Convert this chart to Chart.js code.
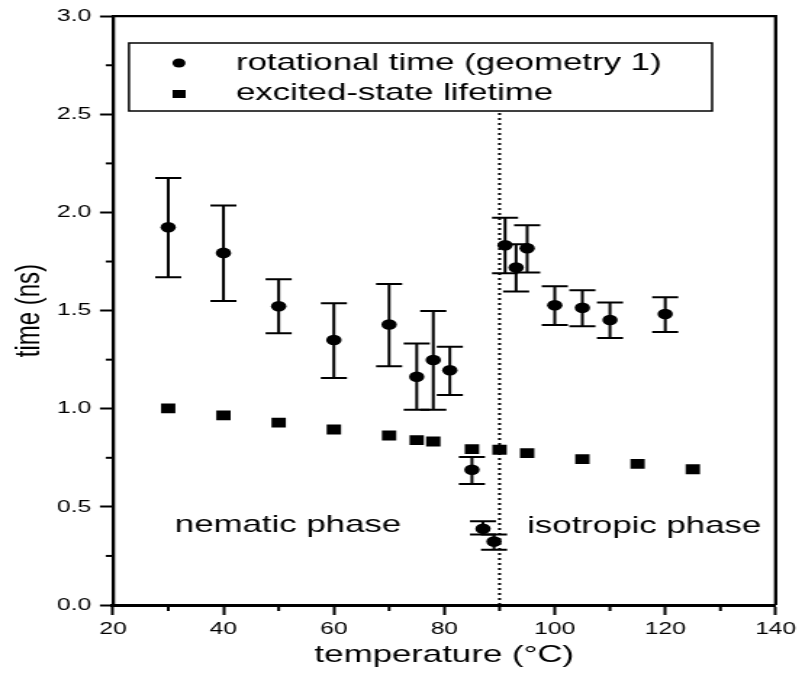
<!DOCTYPE html>
<html>
<head>
<meta charset="utf-8">
<script src="https://cdn.jsdelivr.net/npm/chart.js@4.4.1/dist/chart.umd.min.js"></script>
<style>
  html, body { margin: 0; padding: 0; background: #fff; overflow: hidden; }
  /* the source figure is stretched sideways, so draw narrow and widen it */
  #wrap { width: 553px; height: 676px; transform: scaleX(1.4503); transform-origin: 0 0; }
</style>
</head>
<body>
<div id="wrap"><canvas id="timeChart" width="553" height="676"></canvas></div>
<script>
// rotational time (geometry 1), with error bar limits
const rotTemp = [30, 40, 50, 60, 70, 75, 78, 81, 85, 87, 89, 91, 93, 95, 100, 105, 110, 120];
const rotTime = [1.925, 1.794, 1.522, 1.350, 1.429, 1.163, 1.248, 1.196, 0.689, 0.388, 0.323, 1.833, 1.719, 1.818, 1.527, 1.514, 1.452, 1.483];
const rotLow  = [1.670, 1.549, 1.384, 1.157, 1.216, 0.995, 0.995, 1.070, 0.617, 0.359, 0.281, 1.690, 1.597, 1.694, 1.427, 1.420, 1.360, 1.391];
const rotHigh = [2.175, 2.036, 1.660, 1.537, 1.636, 1.333, 1.498, 1.316, 0.754, 0.427, 0.359, 1.973, 1.838, 1.935, 1.624, 1.604, 1.541, 1.568];

// excited-state lifetime
const lifeTemp = [30, 40, 50, 60, 70, 75, 78, 85, 90, 95, 105, 115, 125];
const lifeTime = [1.002, 0.966, 0.929, 0.894, 0.864, 0.840, 0.833, 0.794, 0.791, 0.774, 0.743, 0.719, 0.692];

// nematic / isotropic transition
const transitionTemp = [90, 90];
const transitionSpan = [0, 2.52];

const xTicks = [20, 40, 60, 80, 100, 120, 140];
const yTicks = [0.0, 0.5, 1.0, 1.5, 2.0, 2.5, 3.0];

const FONT = '"Liberation Sans", Arial, Helvetica, sans-serif';

const extras = {
  id: 'extras',
  beforeDatasetsDraw(chart) {
    const {ctx, scales: {x, y}} = chart;
    ctx.save();
    ctx.strokeStyle = '#000';
    ctx.lineWidth = 2;
    rotTemp.forEach((t, i) => {
      const px = x.getPixelForValue(t);
      const lo = y.getPixelForValue(rotLow[i]);
      const hi = y.getPixelForValue(rotHigh[i]);
      ctx.beginPath();
      ctx.moveTo(px, lo); ctx.lineTo(px, hi);
      ctx.moveTo(px - 9, lo); ctx.lineTo(px + 9, lo);
      ctx.moveTo(px - 9, hi); ctx.lineTo(px + 9, hi);
      ctx.stroke();
    });
    ctx.restore();
  },
  afterDatasetsDraw(chart) {
    const {ctx, chartArea: a, scales: {x, y}} = chart;
    ctx.save();
    // top and right frame
    ctx.strokeStyle = '#000';
    ctx.lineWidth = 2.3;
    ctx.beginPath();
    ctx.moveTo(a.left, a.top); ctx.lineTo(a.right, a.top); ctx.lineTo(a.right, a.bottom);
    ctx.stroke();

    // minor ticks
    ctx.lineWidth = 2;
    for (let v = 0.25; v < 3; v += 0.5) {
      const py = y.getPixelForValue(v);
      ctx.beginPath(); ctx.moveTo(a.left - 5, py); ctx.lineTo(a.left, py); ctx.stroke();
    }
    for (let v = 30; v < 140; v += 20) {
      const px = x.getPixelForValue(v);
      ctx.beginPath(); ctx.moveTo(px, a.bottom); ctx.lineTo(px, a.bottom + 6); ctx.stroke();
    }

    // legend box
    const L = 88.9, R = 491, T = 43, B = 111;
    ctx.fillStyle = '#fff';
    ctx.fillRect(L, T, R - L, B - T);
    ctx.lineWidth = 1.5;
    ctx.strokeRect(L, T, R - L, B - T);
    ctx.fillStyle = '#000';
    ctx.beginPath(); ctx.arc(123.4, 63, 4.5, 0, Math.PI * 2); ctx.fill();
    ctx.fillRect(119, 90, 9, 8);
    ctx.font = '24px ' + FONT;
    ctx.textBaseline = 'alphabetic';
    ctx.textAlign = 'left';
    ctx.fillText('rotational time (geometry 1)', 162.7, 70);
    ctx.fillText('excited-state lifetime', 162.7, 100);

    // phase labels
    ctx.fillText('nematic phase', x.getPixelForValue(31.2), y.getPixelForValue(0.372));
    ctx.fillText('isotropic phase', x.getPixelForValue(95.0), y.getPixelForValue(0.367));
    ctx.restore();
  }
};

new Chart(document.getElementById('timeChart'), {
  type: 'scatter',
  data: {
    datasets: [
      {
        label: 'rotational time (geometry 1)',
        data: rotTemp.map((t, i) => ({x: t, y: rotTime[i]})),
        pointStyle: 'circle',
        pointRadius: 5.3,
        backgroundColor: '#000',
        borderColor: '#000',
        borderWidth: 0
      },
      {
        label: 'excited-state lifetime',
        data: lifeTemp.map((t, i) => ({x: t, y: lifeTime[i]})),
        pointStyle: 'rect',
        pointRadius: 7,
        backgroundColor: '#000',
        borderColor: '#000',
        borderWidth: 0
      },
      {
        type: 'line',
        label: 'transition',
        data: transitionTemp.map((t, i) => ({x: t, y: transitionSpan[i]})),
        showLine: true,
        pointRadius: 0,
        borderColor: '#000',
        borderWidth: 2,
        borderDash: [2, 3]
      }
    ]
  },
  options: {
    responsive: false,
    animation: false,
    events: [],
    layout: { padding: { top: 16, right: 16.4, left: 0, bottom: 0 } },
    plugins: { legend: { display: false }, tooltip: { enabled: false } },
    scales: {
      x: {
        type: 'linear',
        min: 20, max: 140,
        afterBuildTicks: s => { s.ticks = xTicks.map(v => ({value: v})); },
        afterFit: s => { s.height = 71; },
        grid: { drawOnChartArea: false, tickLength: 10, tickWidth: 2, tickColor: '#000' },
        border: { display: true, color: '#000', width: 3 },
        ticks: { color: '#000', font: { family: FONT, size: 17 }, padding: 4, maxRotation: 0 },
        title: { display: true, text: 'temperature (°C)', color: '#000',
                 font: { family: FONT, size: 24 }, padding: { top: 0, bottom: 6.5 } }
      },
      y: {
        type: 'linear',
        min: 0, max: 3,
        afterBuildTicks: s => { s.ticks = yTicks.map(v => ({value: v})); },
        afterFit: s => { s.width = 77.9; },
        grid: { drawOnChartArea: false, tickLength: 9, tickWidth: 2, tickColor: '#000' },
        border: { display: true, color: '#000', width: 2.3 },
        ticks: { color: '#000', font: { family: FONT, size: 17 }, padding: 6,
                 callback: v => v.toFixed(1) },
        title: { display: true, text: 'time (ns)', color: '#000',
                 font: { family: FONT, size: 24 }, padding: { top: 6, bottom: 0 } }
      }
    }
  },
  plugins: [extras]
});
</script>
</body>
</html>
